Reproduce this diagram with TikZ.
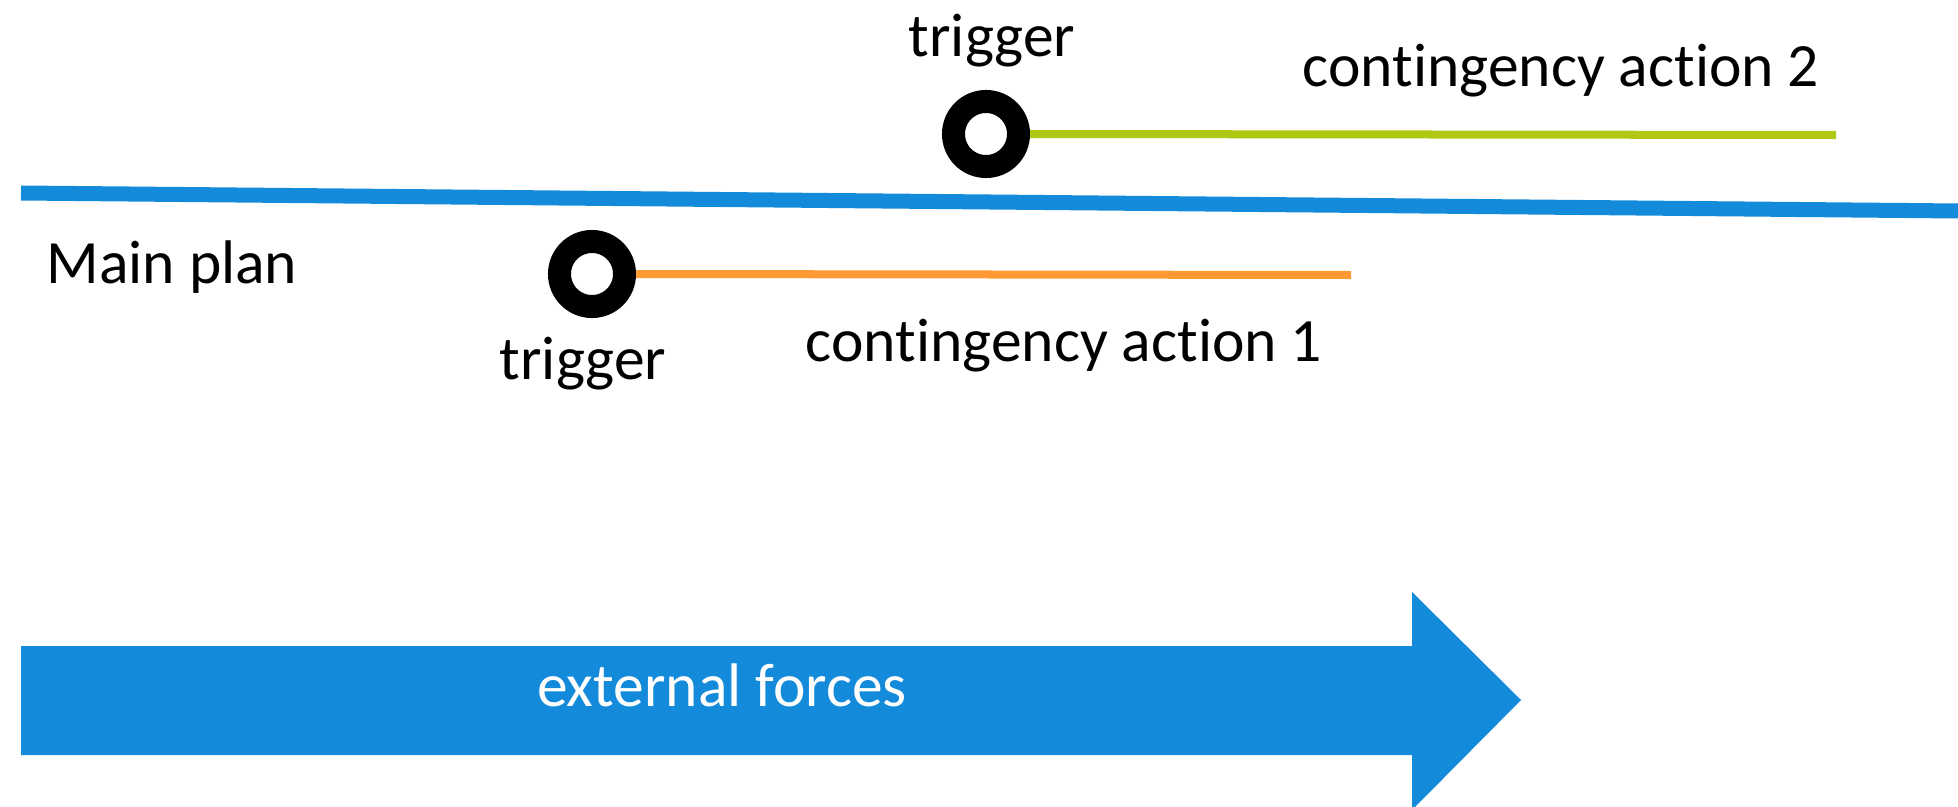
\documentclass[tikz,border=0pt]{standalone}
\usepackage{fontspec}
\setmainfont[Ligatures={NoCommon,NoRequired,NoContextual},Contextuals=NoAlternate]{Carlito}
\usepackage{tikz}
\usetikzlibrary{calc}

\definecolor{planblue}{RGB}{19,139,218}
\definecolor{actorange}{RGB}{255,153,51}
\definecolor{actgreen}{RGB}{176,200,20}

\begin{document}
\begin{tikzpicture}[x=0.01cm,y=-0.01cm,
	lbl/.style={anchor=base,inner sep=0pt,font=\fontsize{17.5}{20}\selectfont},
	ring/.style={circle,draw=black,line width=0.23cm,minimum size=0.65cm,inner sep=0pt},
	action/.style={line width=0.08cm}]
	\useasboundingbox (0,0) rectangle (1958,806);
	\clip (0,0) rectangle (1958,806);
	
	% main plan
	\coordinate (mainL) at (21,193);
	\coordinate (mainR) at (1960,211);
	\draw[planblue,line width=0.15cm] (mainL) -- (mainR);
	\node[lbl] (mainlbl) at (172,283) {Main plan};
	
	% triggers
	\node[ring] (trig1) at (592,274) {};
	\node[ring] (trig2) at (986,134) {};
	\node[lbl] (trig1lbl) at (583,379) {trigger};
	\node[lbl] (trig2lbl) at (992,56) {trigger};
	
	% contingency actions
	\coordinate (act1end) at (1351,275);
	\coordinate (act2end) at (1836,135);
	\draw[action,actorange] (trig1.east) -- (act1end);
	\draw[action,actgreen] (trig2.east) -- (act2end);
	\node[lbl] (act1lbl) at (1064,361) {contingency action 1};
	\node[lbl] (act2lbl) at (1561,86) {contingency action 2};
	
	% external forces
	\fill[planblue] (21,646) -- (1412,646) -- (1412,592) -- (1521,700) -- (1412,810) -- (1412,755) -- (21,755) -- cycle;
	\node[lbl,white] (extlbl) at (722,706) {external forces};
\end{tikzpicture}
\end{document}
